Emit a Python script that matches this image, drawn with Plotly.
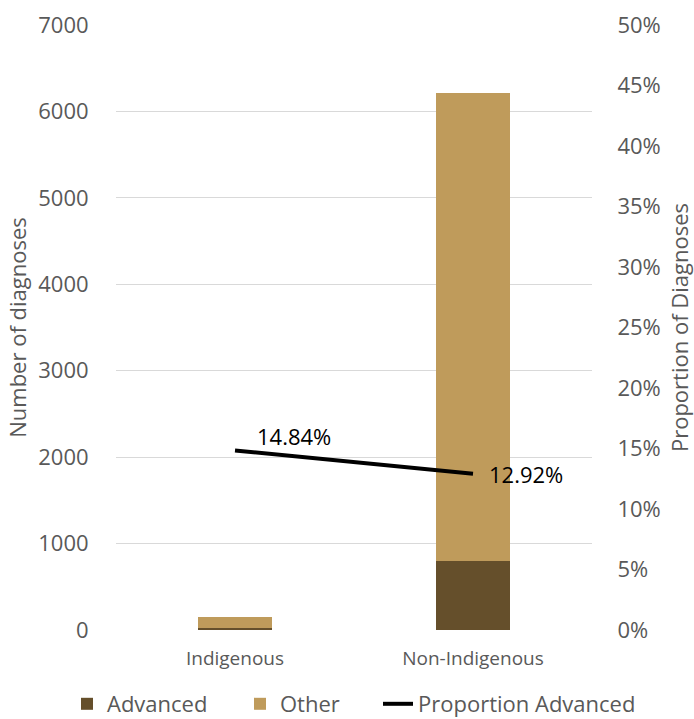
import plotly.graph_objects as go

# Diagnoses by group
groups = ["Indigenous", "Non-Indigenous"]
advanced = [23, 803]
other = [132, 5412]
proportion_advanced = [0.1484, 0.1292]

left_ticks = [0, 1000, 2000, 3000, 4000, 5000, 6000, 7000]
right_ticks = [0, 0.05, 0.10, 0.15, 0.20, 0.25, 0.30, 0.35, 0.40, 0.45, 0.50]

FONT = "Open Sans"
GREY = "#595959"
DARK = "#654F2B"
TAN = "#BF9B5B"
W, H = 694, 719

fig = go.Figure()
fig.add_trace(go.Bar(x=groups, y=advanced, name="Advanced", legend="legend",
                     marker=dict(color=DARK, line=dict(width=0))))
fig.add_trace(go.Bar(x=groups, y=other, name="Other", legend="legend2",
                     marker=dict(color=TAN, line=dict(width=0))))
fig.add_trace(go.Scatter(x=groups, y=proportion_advanced, name="Proportion Advanced",
                         mode="lines", yaxis="y2", legend="legend3",
                         line=dict(color="black", width=4)))

# value labels on the proportion line
offsets = [(20, 14), (14, 0)]
for g, p, (dx, dy) in zip(groups, proportion_advanced, offsets):
    fig.add_annotation(x=g, y=p, xref="x", yref="y2", text=f"{p*100:.2f}%",
                       showarrow=False, xanchor="left", yanchor="middle",
                       xshift=dx, yshift=dy,
                       font=dict(family=FONT, size=22, color="black"))


def legend_at(px):
    # one legend entry per box, laid out along the bottom row
    return dict(orientation="h", xref="container", yref="container",
                x=px / W, xanchor="left", y=15 / H, yanchor="middle",
                font=dict(family=FONT, size=22, color=GREY),
                bgcolor="rgba(0,0,0,0)", borderwidth=0)


fig.update_layout(
    width=W, height=H,
    margin=dict(l=116, r=102, t=25, b=89, autoexpand=False),
    paper_bgcolor="white", plot_bgcolor="white",
    barmode="stack", bargap=0.69,
    font=dict(family=FONT, color=GREY),
    showlegend=True,
    legend=legend_at(67),
    legend2=legend_at(240),
    legend3=legend_at(378),
    xaxis=dict(showgrid=False, showline=False, zeroline=False,
               ticks="outside", ticklen=11, tickcolor="rgba(0,0,0,0)",
               tickfont=dict(family=FONT, size=19, color=GREY)),
    yaxis=dict(range=[0, 7000], tickvals=left_ticks, showgrid=True,
               gridcolor="#D9D9D9", gridwidth=1.3, zeroline=False, showline=False,
               ticks="outside", ticklen=22, tickcolor="rgba(0,0,0,0)",
               tickfont=dict(family=FONT, size=22, color=GREY),
               title=dict(text="Number of diagnoses", standoff=5,
                          font=dict(family=FONT, size=22, color=GREY))),
    yaxis2=dict(range=[0, 0.5], tickvals=right_ticks, tickformat=".0%",
                overlaying="y", side="right", showgrid=False, zeroline=False,
                showline=False, ticks="outside", ticklen=20,
                tickcolor="rgba(0,0,0,0)",
                tickfont=dict(family=FONT, size=22, color=GREY),
                title=dict(text="Proportion of Diagnoses", standoff=17,
                           font=dict(family=FONT, size=22, color=GREY))),
)

fig.write_html("out.html")
